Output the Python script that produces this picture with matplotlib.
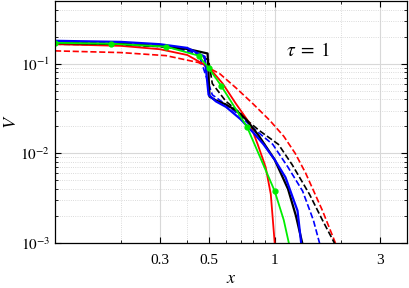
import matplotlib
matplotlib.use('Agg')
import matplotlib.pyplot as plt
from matplotlib.ticker import FixedLocator, NullFormatter, LogLocator

plt.rcParams['font.family'] = ['Liberation Serif', 'DejaVu Serif']
plt.rcParams['mathtext.fontset'] = 'stix'

# curves (x, V)
red_x = [0.1, 0.2, 0.3, 0.4, 0.5, 0.58, 0.665, 0.77, 0.837, 0.91, 0.96, 1.0]
red_v = [0.165, 0.158, 0.145, 0.125, 0.092, 0.06, 0.036, 0.0216, 0.0126, 0.007, 0.0035, 0.001]

red_d_x = [0.1, 0.2, 0.32, 0.45, 0.562, 0.665, 0.794, 0.95, 1.1, 1.24, 1.38, 1.65, 1.89]
red_d_v = [0.139, 0.133, 0.123, 0.103, 0.0774, 0.054, 0.036, 0.0233, 0.0155, 0.01, 0.0061, 0.0023, 0.001]

blk_x = [0.1, 0.2, 0.3, 0.4, 0.45, 0.495, 0.505, 0.54, 0.6, 0.67, 0.746, 0.85, 1.0, 1.15, 1.25, 1.335]
blk_v = [0.17, 0.166, 0.157, 0.146, 0.137, 0.13, 0.043, 0.039, 0.035, 0.03, 0.0235, 0.0155, 0.0085, 0.004, 0.002, 0.001]

blk_d_x = [0.1, 0.2, 0.3, 0.4, 0.5, 0.52, 0.6, 0.7, 0.746, 0.85, 1.04, 1.2, 1.44, 1.65, 1.87]
blk_d_v = [0.165, 0.162, 0.155, 0.142, 0.11, 0.06, 0.038, 0.028, 0.0235, 0.018, 0.0126, 0.0075, 0.0035, 0.0018, 0.001]

blu_x = [0.1, 0.2, 0.3, 0.4, 0.48, 0.5, 0.54, 0.6, 0.7, 0.8, 0.89, 1.0, 1.12, 1.27, 1.32]
blu_v = [0.18, 0.175, 0.165, 0.15, 0.12, 0.045, 0.038, 0.033, 0.024, 0.017, 0.0126, 0.0085, 0.0054, 0.0023, 0.001]

blu_d_x = [0.1, 0.2, 0.3, 0.45, 0.5, 0.52, 0.6, 0.7, 0.8, 0.98, 1.15, 1.34, 1.5, 1.6]
blu_d_v = [0.175, 0.17, 0.16, 0.13, 0.06, 0.045, 0.035, 0.026, 0.019, 0.0126, 0.007, 0.0038, 0.0018, 0.001]

grn_x = [0.1, 0.18, 0.32, 0.45, 0.5, 0.57, 0.75, 1.0, 1.1, 1.16]
grn_v = [0.171, 0.167, 0.155, 0.123, 0.09, 0.057, 0.0195, 0.0038, 0.0018, 0.001]
grn_mark = [0, 1, 2, 3, 4, 5, 6, 7]

x_ticks = [0.3, 0.5, 1, 3]
x_labels = ['0.3', '0.5', '1', '3']
y_ticks = [1e-3, 1e-2, 1e-1]
y_labels = ['$10^{-3}$', '$10^{-2}$', '$10^{-1}$']

fig = plt.figure(figsize=(4.09, 2.88), dpi=100)
ax = fig.add_axes([0.1345, 0.156, 0.8605, 0.8405])

ax.plot(red_d_x, red_d_v, '--', color='red', lw=1.2)
ax.plot(blk_d_x, blk_d_v, '--', color='black', lw=1.2)
ax.plot(blu_d_x, blu_d_v, '--', color='blue', lw=1.2)
ax.plot(red_x, red_v, '-', color='red', lw=1.3)
ax.plot(blk_x, blk_v, '-', color='black', lw=1.6)
ax.plot(blu_x, blu_v, '-', color='blue', lw=1.6)
ax.plot(grn_x, grn_v, '-', color='#00ee00', lw=1.3, marker='o', ms=3.5,
        markevery=grn_mark, mfc='#00ee00', mec='#00ee00')

ax.set_xscale('log')
ax.set_yscale('log')
ax.set_xlim(0.1, 4)
ax.set_ylim(1e-3, 0.5)

ax.xaxis.set_major_locator(FixedLocator(x_ticks))
ax.set_xticklabels(x_labels)
ax.xaxis.set_minor_locator(LogLocator(base=10, subs=range(1, 10)))
ax.xaxis.set_minor_formatter(NullFormatter())
ax.yaxis.set_major_locator(FixedLocator(y_ticks))
ax.set_yticklabels(y_labels)
ax.yaxis.set_minor_locator(LogLocator(base=10, subs=range(2, 10)))
ax.yaxis.set_minor_formatter(NullFormatter())

ax.tick_params(which='both', direction='in', top=True, right=True, labelsize=11)
ax.tick_params(which='major', length=4, width=0.8)
ax.tick_params(axis='x', which='major', pad=8)
ax.tick_params(which='minor', length=2, width=0.6)

ax.grid(True, which='major', color='#d8d8d8', lw=0.8, ls='-')
ax.grid(True, which='minor', color='#cfcfcf', lw=0.6, ls=':')
ax.set_axisbelow(True)
for s in ax.spines.values():
    s.set_linewidth(0.9)

ax.text(1.12, 0.139, r'$\tau\;=\;1$', fontsize=14, va='center', ha='left')
ax.set_xlabel('$x$', fontsize=13, labelpad=2)
ax.set_ylabel('$V$', fontsize=13, labelpad=0)

fig.savefig('out.png', dpi=100)
